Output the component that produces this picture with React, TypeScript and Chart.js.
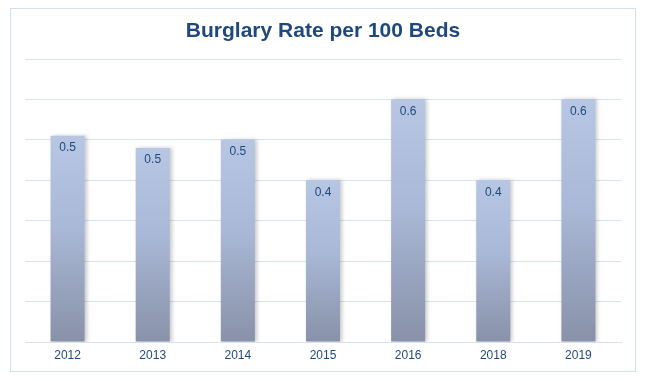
import React, { useEffect, useRef } from "react";
import { Chart, registerables } from "chart.js";

Chart.register(...registerables);

const title = "Burglary Rate per 100 Beds";
const years = ["2012", "2013", "2014", "2015", "2016", "2018", "2019"];
const rates = [0.51, 0.48, 0.5, 0.4, 0.6, 0.4, 0.6];
const yMax = 0.7;
const yStep = 0.1;

const FONT = "'Liberation Sans', Arial, sans-serif";
const TEXT = "#1F497D";
const GRID = "#d6e2f0";
const BAR_TOP = "#b6c6e3";
const BAR_BOTTOM = "#8891a8";

const decor = {
  id: "decor",
  beforeDraw(chart: any) {
    const c = chart.ctx;
    c.save();
    c.fillStyle = "#ffffff";
    c.fillRect(0, 0, chart.width, chart.height);
    c.strokeStyle = "#d3e1ef";
    c.lineWidth = 1;
    c.strokeRect(10.5, 8.5, 625, 363);
    c.fillStyle = TEXT;
    c.font = `bold 21px ${FONT}`;
    c.textAlign = "center";
    c.textBaseline = "middle";
    c.fillText(title, 323, 31);
    c.restore();
  },
  beforeDatasetsDraw(chart: any) {
    const c = chart.ctx;
    c.save();
    c.shadowColor = "rgba(0,0,0,0.22)";
    c.shadowBlur = 4;
    c.shadowOffsetX = 2;
    c.shadowOffsetY = 0;
  },
  afterDatasetsDraw(chart: any) {
    const c = chart.ctx;
    c.restore();
    c.save();
    c.fillStyle = TEXT;
    c.font = `12px ${FONT}`;
    c.textAlign = "center";
    c.textBaseline = "middle";
    const meta = chart.getDatasetMeta(0);
    meta.data.forEach((bar: any, i: number) => {
      c.fillText(rates[i].toFixed(1), bar.x, bar.y + 12);
    });
    c.restore();
  },
};

export default function App() {
  const ref = useRef<HTMLCanvasElement>(null);
  useEffect(() => {
    if (!ref.current) return;
    const chart = new Chart(ref.current, {
      type: "bar",
      data: {
        labels: years,
        datasets: [
          {
            data: rates,
            barPercentage: 0.4,
            categoryPercentage: 1,
            backgroundColor: (ctx: any) => {
              const ch = ctx.chart;
              if (!ch.chartArea || ctx.type !== "data" || !ch.scales.y) return BAR_TOP;
              const y0 = ch.scales.y.getPixelForValue(ctx.raw);
              const y1 = ch.scales.y.getPixelForValue(0);
              if (!isFinite(y0) || !isFinite(y1) || y0 === y1) return BAR_TOP;
              const g = ch.ctx.createLinearGradient(0, y0, 0, y1);
              g.addColorStop(0, BAR_TOP);
              g.addColorStop(0.45, "#a9b8d6");
              g.addColorStop(1, BAR_BOTTOM);
              return g;
            },
            borderWidth: 0,
          },
        ],
      },
      options: {
        responsive: false,
        animation: false,
        layout: { padding: { left: 25, right: 24, top: 59, bottom: 12.6 } },
        plugins: {
          legend: { display: false },
          title: { display: false },
          tooltip: { enabled: false },
        },
        scales: {
          x: {
            grid: { display: false, drawTicks: false },
            border: { display: true, color: GRID },
            ticks: { color: TEXT, font: { family: FONT, size: 12 }, padding: 6 },
          },
          y: {
            min: 0,
            max: yMax,
            ticks: { display: false, stepSize: yStep },
            grid: { color: GRID, drawTicks: false },
            border: { display: false },
          },
        },
      },
      plugins: [decor],
    });
    return () => chart.destroy();
  }, []);
  return (
    <div style={{ position: "absolute", left: 0, top: 0, width: 645, height: 381 }}>
      <canvas ref={ref} width={645} height={381} style={{ display: "block" }} />
    </div>
  );
}
